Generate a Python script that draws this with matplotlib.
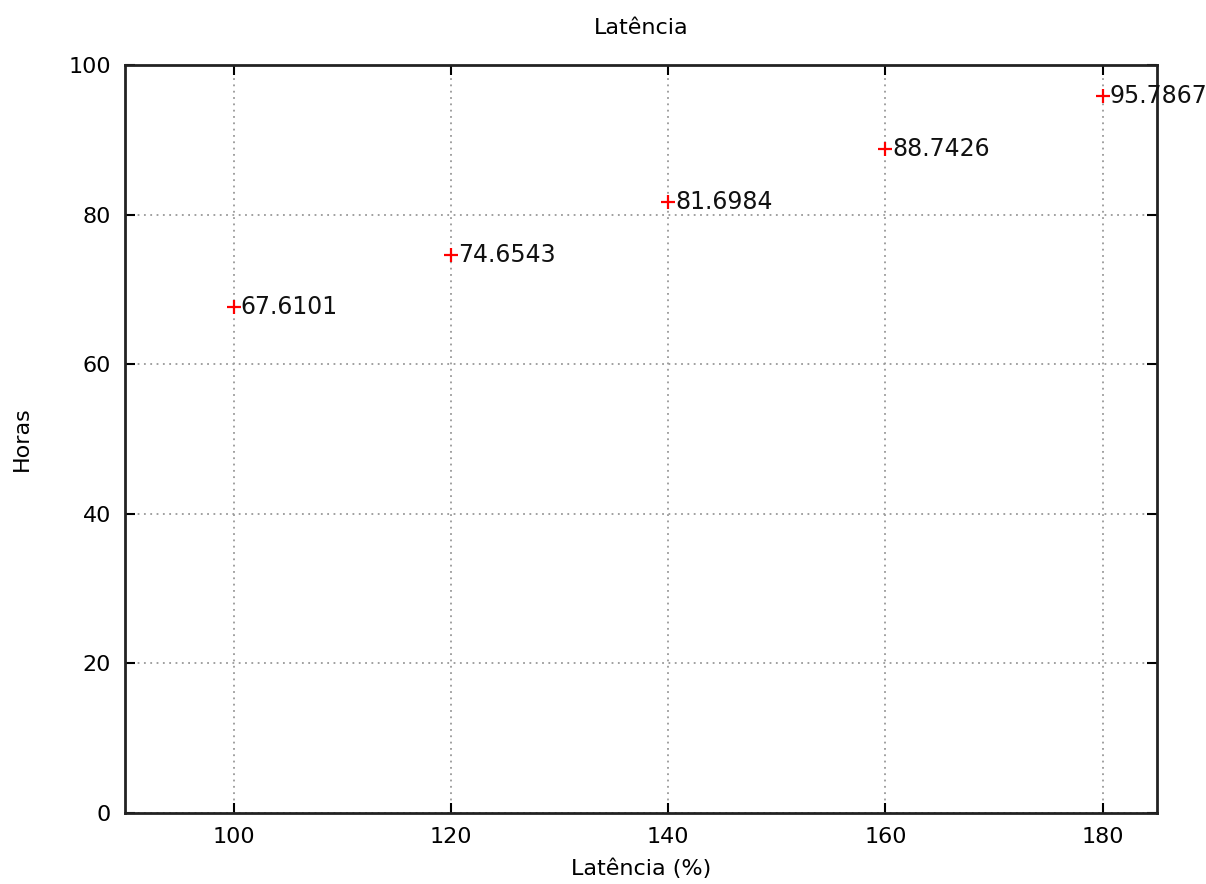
import matplotlib
matplotlib.use("Agg")
import matplotlib.pyplot as plt

latencia = [100, 120, 140, 160, 180]
horas = [67.6101, 74.6543, 81.6984, 88.7426, 95.7867]
rotulos = ["67.6101", "74.6543", "81.6984", "88.7426", "95.7867"]

fig = plt.figure(figsize=(12.06, 8.84), dpi=100)
ax = fig.add_axes([0.1036, 0.0803, 0.8558, 0.8462])

ax.plot(latencia, horas, linestyle='none', marker='+', color='red',
        markersize=10, markeredgewidth=1.6, zorder=3)

for x, y, txt in zip(latencia, horas, rotulos):
    ax.annotate(txt, (x, y), xytext=(5, 0), textcoords='offset points',
                ha='left', va='center', fontsize=17, color='#111111',
                annotation_clip=False, clip_on=False)

ax.set_xlim(90, 185)
ax.set_ylim(0, 100)
ax.set_xticks([100, 120, 140, 160, 180])
ax.set_yticks([0, 20, 40, 60, 80, 100])

ax.set_title("Latência", fontsize=16, pad=22)
ax.set_xlabel("Latência (%)", fontsize=16, labelpad=8)
ax.set_ylabel("Horas", fontsize=16, labelpad=26)

ax.grid(True, linestyle=(0, (1, 2.5)), linewidth=1.3, color='#999999')
ax.tick_params(direction='in', top=True, right=True, length=7, width=1.5,
               labelsize=16, pad=10)
for s in ax.spines.values():
    s.set_linewidth(2)
    s.set_color('#222222')

fig.savefig("out.png", dpi=100)
